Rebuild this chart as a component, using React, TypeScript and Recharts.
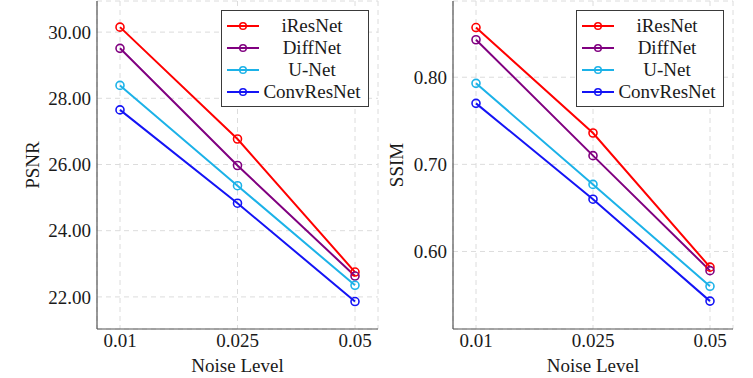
import React from "react"
import {
  LineChart,
  Line,
  XAxis,
  YAxis,
  CartesianGrid,
  Legend,
} from "recharts"

const noiseLevels = ["0.01", "0.025", "0.05"]

const psnrIResNet = [30.15, 26.77, 22.75]
const psnrDiffNet = [29.51, 25.97, 22.63]
const psnrUNet = [28.39, 25.36, 22.35]
const psnrConvResNet = [27.65, 24.83, 21.86]

const ssimIResNet = [0.857, 0.736, 0.582]
const ssimDiffNet = [0.843, 0.71, 0.578]
const ssimUNet = [0.793, 0.677, 0.56]
const ssimConvResNet = [0.77, 0.66, 0.543]

const psnrTicks = [22, 24, 26, 28, 30]
const ssimTicks = [0.6, 0.7, 0.8]

const seriesNames = ["iResNet", "DiffNet", "U-Net", "ConvResNet"]
const seriesColors = ["#ff0000", "#800080", "#1cb2e8", "#1414f5"]

const FONT = "Liberation Serif"
const FS = 19

function buildRows(values: number[][]) {
  return noiseLevels.map((noise, i) => {
    const row: Record<string, string | number> = { noise }
    seriesNames.forEach((name, s) => {
      row[name] = values[s][i]
    })
    return row
  })
}

const psnrData = buildRows([psnrIResNet, psnrDiffNet, psnrUNet, psnrConvResNet])
const ssimData = buildRows([ssimIResNet, ssimDiffNet, ssimUNet, ssimConvResNet])

function LegendBox() {
  return (
    <div
      style={{
        width: 148,
        height: 97,
        boxSizing: "border-box",
        border: "1px solid #3a3a3a",
        background: "#fff",
        paddingTop: 4,
        fontFamily: FONT,
        fontSize: FS,
        color: "#1a1a1a",
      }}
    >
      {seriesNames.map((name, i) => (
        <div key={name} style={{ display: "flex", alignItems: "center", height: 22 }}>
          <svg width={40} height={12} style={{ flex: "none" }}>
            <line x1={5} x2={37} y1={6} y2={6} stroke={seriesColors[i]} strokeWidth={2} />
            <circle cx={21} cy={6} r={3.3} fill="none" stroke={seriesColors[i]} strokeWidth={1.5} />
          </svg>
          <span style={{ flex: 1, textAlign: "center", paddingRight: 6, whiteSpace: "nowrap" }}>{name}</span>
        </div>
      ))}
    </div>
  )
}

interface PanelProps {
  data: Record<string, string | number>[]
  width: number
  yWidth: number
  rightMargin: number
  domain: [number, number]
  ticks: number[]
  yLabel: string
  yLabelX: number
  legendLeft: number
}

function Panel({ data, width, yWidth, rightMargin, domain, ticks, yLabel, yLabelX, legendLeft }: PanelProps) {
  const height = 378
  const top = 1
  const bottom = 49
  const midY = top + (height - top - bottom) / 2
  return (
    <LineChart
      width={width}
      height={height}
      data={data}
      margin={{ top, right: rightMargin, left: 0, bottom: 0 }}
      style={{ fontFamily: FONT }}
    >
      <CartesianGrid stroke="#dcdcdc" strokeDasharray="5 4" />
      <XAxis
        dataKey="noise"
        height={bottom}
        padding={{ left: 23, right: 23 }}
        tickLine={false}
        tickSize={0}
        tickMargin={5}
        axisLine={{ stroke: "#555", strokeWidth: 1.2 }}
        tick={{ fill: "#1a1a1a", fontSize: FS, fontFamily: FONT }}
        label={{
          value: "Noise Level",
          position: "insideBottom",
          offset: 6,
          fill: "#1a1a1a",
          fontSize: FS,
          fontFamily: FONT,
        }}
      />
      <XAxis xAxisId="frame" dataKey="noise" orientation="top" height={0} tick={false} tickLine={false} axisLine={{ stroke: "#555", strokeWidth: 1.2 }} />
      <YAxis
        width={yWidth}
        domain={domain}
        allowDataOverflow
        ticks={ticks}
        tickFormatter={(v: number) => v.toFixed(2)}
        tickLine={false}
        tickSize={0}
        tickMargin={6}
        axisLine={{ stroke: "#555", strokeWidth: 1.2 }}
        tick={{ fill: "#1a1a1a", fontSize: FS, fontFamily: FONT }}
        label={{
          value: yLabel,
          content: () => (
            <text
              x={yLabelX}
              y={midY}
              transform={`rotate(-90 ${yLabelX} ${midY})`}
              textAnchor="middle"
              dominantBaseline="central"
              fill="#1a1a1a"
              fontSize={FS}
              fontFamily={FONT}
            >
              {yLabel}
            </text>
          ),
        }}
      />
      <YAxis yAxisId="frame" orientation="right" width={0} domain={domain} tick={false} tickLine={false} axisLine={{ stroke: "#555", strokeWidth: 1.2 }} />
      <Legend
        layout="horizontal"
        verticalAlign="middle"
        content={() => <LegendBox />}
        wrapperStyle={{ left: legendLeft, top: 10, width: 148, height: 97, bottom: "auto", right: "auto" }}
      />
      {seriesNames.map((name, i) => (
        <Line
          key={name}
          dataKey={name}
          stroke={seriesColors[i]}
          strokeWidth={2}
          dot={{ r: 4, fill: "none", stroke: seriesColors[i], strokeWidth: 1.6 }}
          activeDot={false}
          isAnimationActive={false}
        />
      ))}
    </LineChart>
  )
}

export default function App() {
  return (
    <div style={{ position: "fixed", left: 0, top: 0, width: 753, height: 378, background: "#fff", display: "flex" }}>
      <Panel
        data={psnrData}
        width={380}
        yWidth={97}
        rightMargin={2}
        domain={[21.03, 30.94]}
        ticks={psnrTicks}
        yLabel="PSNR"
        yLabelX={32}
        legendLeft={221}
      />
      <Panel
        data={ssimData}
        width={373}
        yWidth={73}
        rightMargin={20}
        domain={[0.511, 0.8875]}
        ticks={ssimTicks}
        yLabel="SSIM"
        yLabelX={16}
        legendLeft={196}
      />
    </div>
  )
}
